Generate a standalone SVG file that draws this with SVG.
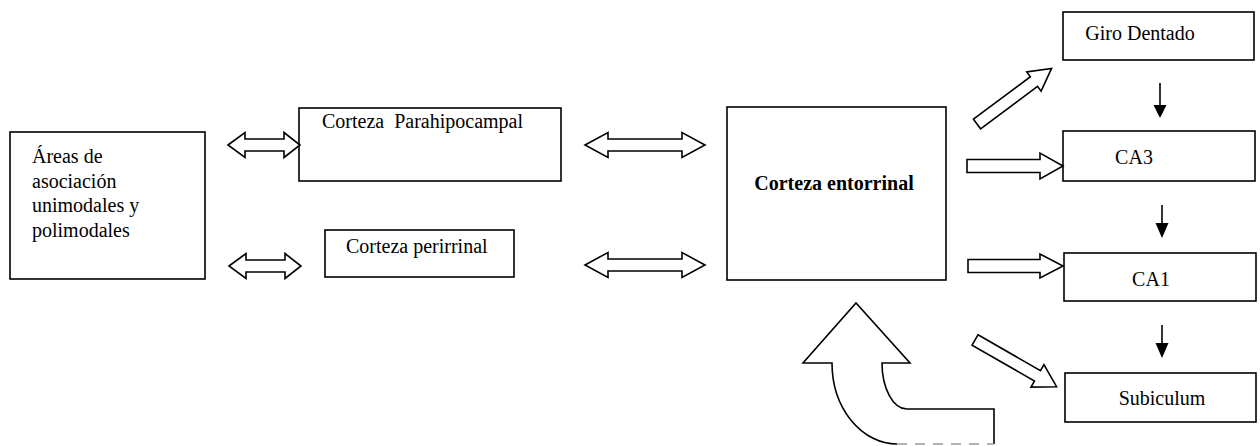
<svg xmlns="http://www.w3.org/2000/svg" width="1260" height="446" viewBox="0 0 1260 446">
<style>
.box{fill:#fff;stroke:#000;stroke-width:1.6}
.t{font-family:"Liberation Serif","Times New Roman",serif;font-size:20px;fill:#000;white-space:pre}
.b{font-weight:bold}
.ar{fill:#fff;stroke:#000;stroke-width:1.6;stroke-linejoin:miter}
.ln{stroke:#000;stroke-width:1.6;fill:none}
.hd{fill:#000;stroke:none}
</style>
<rect width="1260" height="446" fill="#fff"/>
<g id="areas">
<rect class="box" x="10" y="132" width="195" height="147"/>
<text class="t" x="32" y="163">Áreas de</text>
<text class="t" x="32" y="188">asociación</text>
<text class="t" x="32" y="212">unimodales y</text>
<text class="t" x="32" y="237">polimodales</text>
</g>
<g id="parahipocampal">
<rect class="box" x="299" y="108" width="262" height="73"/>
<text class="t" x="322" y="128" xml:space="preserve">Corteza  Parahipocampal</text>
</g>
<g id="perirrinal">
<rect class="box" x="325" y="230" width="189" height="47"/>
<text class="t" x="346" y="253">Corteza perirrinal</text>
</g>
<g id="entorrinal">
<rect class="box" x="727" y="107" width="219" height="173"/>
<text class="t b" x="834" y="190" text-anchor="middle">Corteza entorrinal</text>
</g>
<g id="giro">
<rect class="box" x="1063" y="12" width="191" height="48"/>
<text class="t" x="1140" y="40" text-anchor="middle">Giro Dentado</text>
</g>
<g id="ca3">
<rect class="box" x="1063" y="131" width="192" height="50"/>
<text class="t" x="1134" y="164" text-anchor="middle">CA3</text>
</g>
<g id="ca1">
<rect class="box" x="1064" y="253" width="192" height="48"/>
<text class="t" x="1151" y="286" text-anchor="middle">CA1</text>
</g>
<g id="subiculum">
<rect class="box" x="1065" y="373" width="191" height="49"/>
<text class="t" x="1162" y="405" text-anchor="middle">Subiculum</text>
</g>
<g id="connectors">
<polygon class="ar" points="228,145 245,132.5 245,139 284,139 284,132.5 300,145 284,157.5 284,151 245,151 245,157.5"/>
<polygon class="ar" points="229,266 246,253.5 246,260 285,260 285,253.5 301,266 285,278.5 285,272 246,272 246,278.5"/>
<polygon class="ar" points="585,145 608,132.5 608,139 682,139 682,132.5 705,145 682,157.5 682,151 608,151 608,157.5"/>
<polygon class="ar" points="585,265 608,252.5 608,259 682,259 682,252.5 705,265 682,277.5 682,271 608,271 608,277.5"/>
<polygon class="ar" points="967,159.5 1040,159.5 1040,153 1063,166 1040,179 1040,172.5 967,172.5"/>
<polygon class="ar" points="968,259.5 1040,259.5 1040,254 1063,266 1040,278 1040,272.5 968,272.5"/>
<polygon class="ar" transform="translate(977,124) rotate(-36.7)" points="0,-6 71,-6 71,-12 93,0 71,12 71,6 0,6"/>
<polygon class="ar" transform="translate(975,340) rotate(29.8)" points="0,-6 72,-6 72,-13 94,0 72,13 72,6 0,6"/>
<line class="ln" x1="1160" y1="83" x2="1160" y2="106"/>
<polygon class="hd" points="1153.5,105 1166.5,105 1160,118"/>
<line class="ln" x1="1162" y1="205" x2="1162" y2="224"/>
<polygon class="hd" points="1155.5,223 1168.5,223 1162,238"/>
<line class="ln" x1="1162" y1="325" x2="1162" y2="344"/>
<polygon class="hd" points="1155.5,343 1168.5,343 1162,358"/>
<path class="ar" d="M897,444 A65,81 0 0 1 832,363 L803,363 L856,303 L910,363 L882,363 A25,46 0 0 0 907,409 L994,409 L994,444" fill="#fff"/>
<line x1="897" y1="444" x2="994" y2="444" stroke="#999" stroke-width="1.4" stroke-dasharray="10,8"/>
</g>
</svg>
